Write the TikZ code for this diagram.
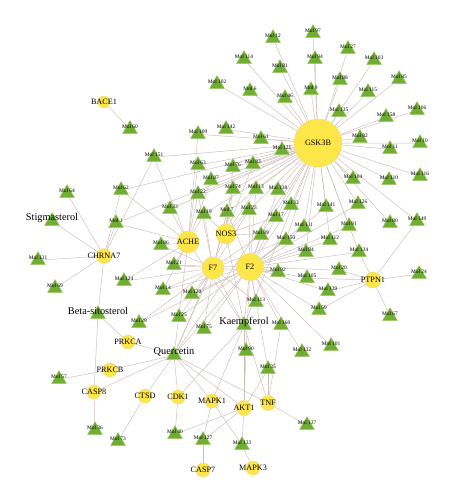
\documentclass[tikz,border=0pt]{standalone}
\usepackage{fontspec}
\setmainfont{Liberation Serif}
\usetikzlibrary{shapes.geometric}
\definecolor{leafgreen}{RGB}{112,173,48}
\definecolor{rimgreen}{RGB}{160,205,110}
\definecolor{hubyellow}{RGB}{252,230,72}
\definecolor{rimyellow}{RGB}{240,215,120}
\definecolor{linkgray}{RGB}{205,190,184}
\pgfdeclarelayer{background}
\pgfsetlayers{background,main}

\begin{document}
\begin{tikzpicture}[x=0.03cm,y=-0.03cm,
  tri/.style={regular polygon,regular polygon sides=3,minimum size=0.52cm,inner sep=0pt,
    fill=leafgreen,draw=rimgreen,line width=0.3pt,yshift=-1.9pt},
  mol/.style={tri,label={[font=\fontsize{4.6}{5}\selectfont,yshift=2.4pt]center:Mol #1}},
  herb/.style={tri,label={[font=\fontsize{8.8}{10}\selectfont,yshift=2.4pt]center:#1}},
  tgt/.style={circle,inner sep=0pt,fill=hubyellow,draw=rimyellow,line width=0.3pt,
    label={[font=\fontsize{7}{8}\selectfont]center:#1}},
  link/.style={linkgray,line width=0.4pt}]
  \useasboundingbox (0,0) rectangle (453,500);

  % targets
  \foreach \t/\x/\y/\d in {GSK3B/318/143/1.44, BACE1/104/102/0.36, CHRNA7/104/256/0.45,
      ACHE/188/242/0.66, NOS3/226/234/0.6, F7/213/268/0.66, F2/250/267/0.81,
      PTPN1/373/280/0.48, PRKCA/128/342/0.42, PRKCB/110/370/0.42, CASP8/94/392/0.42,
      CTSD/145/396/0.42, CDK1/178/397/0.42, MAPK1/212/401/0.42, AKT1/244/408/0.45,
      TNF/268/403/0.45, CASP7/203/470/0.42, MAPK3/253/468/0.42}
    \node[tgt=\t,minimum size=\d cm] (\t) at (\x,\y) {};

  % herbal compounds
  \node[herb=Stigmasterol] (stig) at (52,219) {};
  \node[herb=Beta-sitosterol] (beta) at (98,312) {};
  \node[herb=Kaempferol] (kaem) at (244,323) {};
  \node[herb=Quercetin] (quer) at (174,353) {};

  % molecules
  \foreach \n/\x/\y in {12/273/36, 114/244/57, 81/280/66, 102/217/82, 6/250/89, 46/285/96,
      142/226/127, 109/198/132, 97/313/31, 27/348/47, 94/315/57, 103/374/58, 88/340/78,
      85/399/77, 9/311/88, 115/368/90, 135/339/110, 106/417/108, 158/386/115, 82/360/136,
      11/390/147, 10/420/141, 104/353/177, 110/389/178, 116/420/174, 141/326/205,
      126/358/202, 80/390/221, 149/417/219, 91/349/224, 111/304/225, 112/330/238,
      134/359/250, 84/306/250, 61/261/137, 121/282/148, 151/154/155, 63/198/163,
      76/233/165, 83/253/162, 87/211/178, 74/233/187, 13/256/187, 138/278/188,
      22/198/192, 33/170/207, 19/204/212, 7/227/210, 23/249/208, 32/291/203, 17/276/215,
      89/261/233, 150/286/238, 86/161/243, 60/130/127, 62/121/188, 64/67/191, 1/116/221,
      131/38/258, 69/55/286, 124/124/279, 29/139/321, 57/59/377, 21/174/263, 14/163/288,
      120/192/292, 92/278/270, 113/256/300, 25/179/315, 75/204/327, 160/281/323,
      90/246/349, 35/268/367, 132/302/350, 20/339/268, 105/307/276, 24/419/272,
      139/328/289, 59/319/308, 67/390/314, 101/331/344, 36/95/428, 73/118/439,
      40/175/432, 127/203/438, 133/242/443, 137/307/423}
    \node[mol=\n] (m\n) at (\x,\y) {};

  \begin{pgfonlayer}{background}
    \foreach \t/\ms in {
        GSK3B/{12,114,81,102,6,46,142,109,97,27,94,103,88,85,9,115,135,106,158,82,11,10,
          104,110,116,141,126,80,149,91,111,112,134,84,61,121,151,63,76,83,87,74,13,138,
          22,33,19,7,23,32,17,89,150,62,1},
        ACHE/{151,62,1,33,86,21,14,124,63,22,19,87,109},
        NOS3/{7,19,74,13,23,89,17,76,83},
        F7/{21,14,120,25,75,113,29,124,86,22,19,7,23,89,150,92,74},
        F2/{120,25,75,113,92,160,90,35,132,101,59,139,105,20,84,134,111,112,91,150,89,
          17,23,13,138,32,126,141,29,14,21,7},
        PTPN1/{24,67,149,20,134,105,59,139},
        CHRNA7/{64,131,69,1,62,151},
        BACE1/{60}, PRKCB/{57}, CASP8/{36}, CTSD/{73}, CDK1/{40},
        AKT1/{40,127,133,90,35}, MAPK1/{127,133}, CASP7/{127}, MAPK3/{133},
        TNF/{137,35,160}}
      \foreach \m in \ms
        \draw[link] (\t) -- (m\m);
    \foreach \h/\ts in {stig/{CHRNA7}, beta/{CHRNA7,PRKCA,CASP8},
        quer/{PRKCA,PRKCB,CASP8,CTSD,CDK1,MAPK1,AKT1,TNF,GSK3B,F2,F7,ACHE,NOS3},
        kaem/{CDK1,MAPK1,AKT1,TNF,GSK3B,F2,F7,ACHE,NOS3}}
      \foreach \t in \ts
        \draw[link] (\h) -- (\t);
  \end{pgfonlayer}
\end{tikzpicture}
\end{document}
